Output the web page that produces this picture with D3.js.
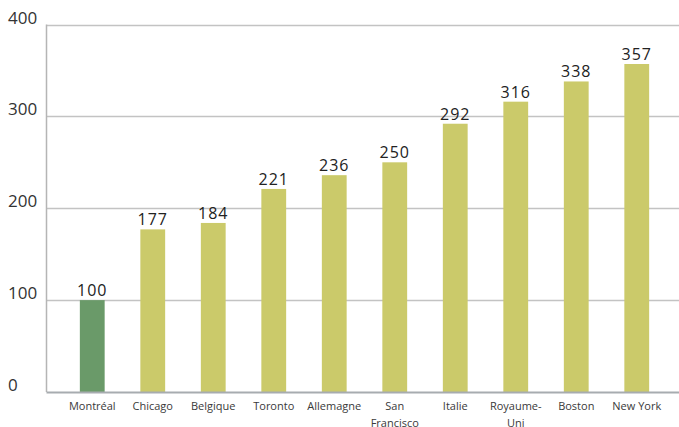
<!DOCTYPE html>
<html>
<head>
<meta charset="utf-8">
<script src="https://cdn.jsdelivr.net/npm/d3@7"></script>
<style>
  body { margin: 0; background: #fff; }
  svg { display: block; font-family: "Open Sans", "DejaVu Sans", sans-serif; }
</style>
</head>
<body>
<div id="chart"></div>
<script>
var categories = ["Montréal", "Chicago", "Belgique", "Toronto", "Allemagne", "San Francisco", "Italie", "Royaume-Uni", "Boston", "New York"];
var catLines = [["Montréal"], ["Chicago"], ["Belgique"], ["Toronto"], ["Allemagne"], ["San", "Francisco"], ["Italie"], ["Royaume-", "Uni"], ["Boston"], ["New York"]];
var values = [100, 177, 184, 221, 236, 250, 292, 316, 338, 357];
var yTicks = [0, 100, 200, 300, 400];

var width = 679;
var height = 427;
var plotLeft = 46.5;
var plotTop = 24.5;
var plotBottom = 392;

var svg = d3.select("#chart")
    .append("svg")
    .attr("width", width)
    .attr("height", height);

var x = d3.scaleBand()
    .domain(categories)
    .range([62, 667])
    .paddingInner(0.59)
    .paddingOuter(0.295);

var y = d3.scaleLinear()
    .domain([0, 400])
    .range([plotBottom, plotTop]);

// gridlines
svg.selectAll("line.grid")
    .data(yTicks.slice(1))
    .enter()
    .append("line")
    .attr("class", "grid")
    .attr("x1", plotLeft)
    .attr("x2", width)
    .attr("y1", function (d) { return Math.round(y(d)) + 0.5; })
    .attr("y2", function (d) { return Math.round(y(d)) + 0.5; })
    .attr("stroke", "#c3c3c3")
    .attr("stroke-width", 1.3);

// y labels
svg.selectAll("text.ytick")
    .data(yTicks)
    .enter()
    .append("text")
    .attr("class", "ytick")
    .attr("x", 8)
    .attr("y", function (d) { return y(d) - 1; })
    .attr("font-size", 17)
    .attr("fill", "#333")
    .text(function (d) { return d; });

// bars
svg.selectAll("rect.bar")
    .data(values)
    .enter()
    .append("rect")
    .attr("class", "bar")
    .attr("x", function (d, i) { return x(categories[i]); })
    .attr("width", x.bandwidth())
    .attr("y", function (d) { return y(d); })
    .attr("height", function (d) { return y(0) - y(d); })
    .attr("fill", function (d, i) { return i === 0 ? "#6a9a69" : "#cbca6a"; });

// value labels
svg.selectAll("text.val")
    .data(values)
    .enter()
    .append("text")
    .attr("class", "val")
    .attr("x", function (d, i) { return x(categories[i]) + x.bandwidth() / 2; })
    .attr("y", function (d) { return y(d) - 4; })
    .attr("text-anchor", "middle")
    .attr("font-size", 16)
    .attr("letter-spacing", 1)
    .attr("fill", "#222")
    .text(function (d) { return d; });

// left axis line
svg.append("line")
    .attr("x1", plotLeft).attr("x2", plotLeft)
    .attr("y1", plotTop).attr("y2", plotBottom)
    .attr("stroke", "#b5b5b5")
    .attr("stroke-width", 1.5);

// bottom axis line
svg.append("line")
    .attr("x1", plotLeft).attr("x2", width)
    .attr("y1", plotBottom + 0.5).attr("y2", plotBottom + 0.5)
    .attr("stroke", "#a7acb0")
    .attr("stroke-width", 2.2);

// category labels
var cat = svg.selectAll("text.cat")
    .data(categories)
    .enter()
    .append("text")
    .attr("class", "cat")
    .attr("x", function (d) { return x(d) + x.bandwidth() / 2; })
    .attr("y", 410)
    .attr("text-anchor", "middle")
    .attr("font-size", 11)
    .attr("fill", "#3a3a3a");

cat.each(function (d, i) {
    var t = d3.select(this);
    catLines[i].forEach(function (line, j) {
        t.append("tspan")
            .attr("x", x(d) + x.bandwidth() / 2)
            .attr("dy", j === 0 ? 0 : 17)
            .text(line);
    });
});
</script>
</body>
</html>
